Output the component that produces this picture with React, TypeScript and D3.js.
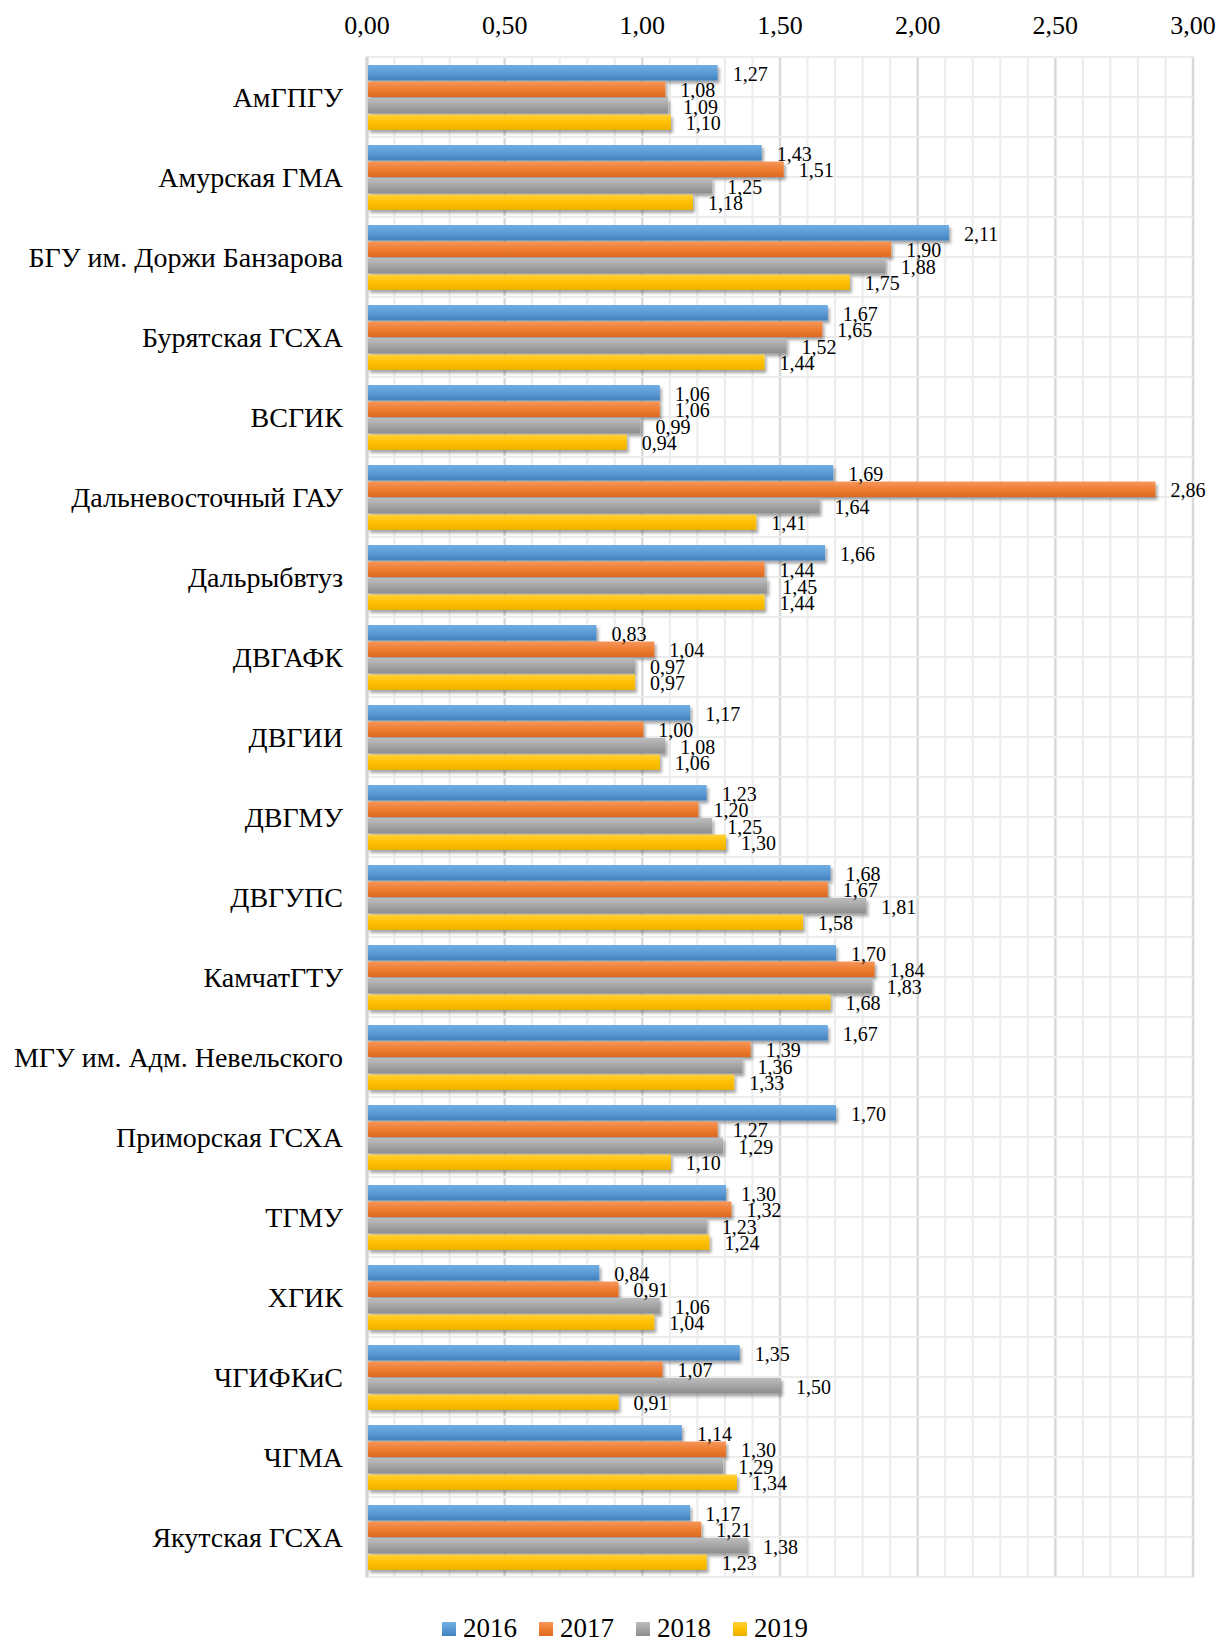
import * as d3 from 'd3'

const categories: string[] = [
  'АмГПГУ',
  'Амурская ГМА',
  'БГУ им. Доржи Банзарова',
  'Бурятская ГСХА',
  'ВСГИК',
  'Дальневосточный ГАУ',
  'Дальрыбвтуз',
  'ДВГАФК',
  'ДВГИИ',
  'ДВГМУ',
  'ДВГУПС',
  'КамчатГТУ',
  'МГУ им. Адм. Невельского',
  'Приморская ГСХА',
  'ТГМУ',
  'ХГИК',
  'ЧГИФКиС',
  'ЧГМА',
  'Якутская ГСХА',
]

const years: string[] = ['2016', '2017', '2018', '2019']

const v2016: number[] = [1.27, 1.43, 2.11, 1.67, 1.06, 1.69, 1.66, 0.83, 1.17, 1.23, 1.68, 1.70, 1.67, 1.70, 1.30, 0.84, 1.35, 1.14, 1.17]
const v2017: number[] = [1.08, 1.51, 1.90, 1.65, 1.06, 2.86, 1.44, 1.04, 1.00, 1.20, 1.67, 1.84, 1.39, 1.27, 1.32, 0.91, 1.07, 1.30, 1.21]
const v2018: number[] = [1.09, 1.25, 1.88, 1.52, 0.99, 1.64, 1.45, 0.97, 1.08, 1.25, 1.81, 1.83, 1.36, 1.29, 1.23, 1.06, 1.50, 1.29, 1.38]
const v2019: number[] = [1.10, 1.18, 1.75, 1.44, 0.94, 1.41, 1.44, 0.97, 1.06, 1.30, 1.58, 1.68, 1.33, 1.10, 1.24, 1.04, 0.91, 1.34, 1.23]

const xTicks: number[] = [0, 0.5, 1, 1.5, 2, 2.5, 3]

const series = [v2016, v2017, v2018, v2019]
const palette = [
  ['#72aee3', '#5b9bd5', '#3f7fc0'],
  ['#f6975d', '#ed7d31', '#dd6a1f'],
  ['#bdbdbd', '#a5a5a5', '#8c8c8c'],
  ['#ffd23f', '#ffc000', '#ecb000'],
]

const W = 1232
const H = 1642
const left = 367
const right = 1193
const top = 57
const bottom = 1577
const font = '"Liberation Serif", "Times New Roman", serif'
const fmt = (v: number) => v.toFixed(2).replace('.', ',')

const App = () => {
  const x = d3.scaleLinear().domain([0, 3]).range([left, right])
  const y = d3.scaleBand<string>().domain(categories).range([top, bottom]).paddingInner(0)
  const inner = d3.scaleBand<string>().domain(years).range([8, y.bandwidth() - 7]).paddingInner(0.06)

  const minor = d3.range(0, 3.0001, 0.1)
  const hLines = d3.range(0, categories.length * 2 + 1).map(i => top + (i * y.bandwidth()) / 2)

  const legendX = [442, 539, 636, 733]

  return (
    <svg width={W} height={H} style={{ position: 'absolute', left: 0, top: 0, background: '#fff' }} fontFamily={font}>
      <defs>
        {palette.map((c, i) => (
          <linearGradient key={i} id={`g${i}`} x1="0" y1="0" x2="0" y2="1">
            <stop offset="0" stopColor={c[0]} />
            <stop offset="0.5" stopColor={c[1]} />
            <stop offset="1" stopColor={c[2]} />
          </linearGradient>
        ))}
        <filter id="sh" x="-5%" y="-50%" width="110%" height="250%">
          <feDropShadow dx="2" dy="3" stdDeviation="1.8" floodColor="#000" floodOpacity="0.35" />
        </filter>
      </defs>

      {/* grid */}
      <rect x={left} y={top} width={right - left} height={bottom - top} fill="none" stroke="#e4e4e4" strokeWidth={2} />
      {minor.map((t, i) => (
        <line key={'v' + i} x1={x(t)} x2={x(t)} y1={top} y2={bottom}
          stroke={i % 5 === 0 ? '#d9d9d9' : '#ececec'} strokeWidth={i % 5 === 0 ? 2.5 : 2} />
      ))}
      {hLines.map((yy, i) => (
        <line key={'h' + i} x1={left} x2={right} y1={yy} y2={yy} stroke="#ececec" strokeWidth={2} />
      ))}
      <line x1={left} x2={left} y1={top} y2={bottom} stroke="#d4d4d4" strokeWidth={3} />

      {/* x axis tick labels */}
      {xTicks.map(t => (
        <text key={t} x={x(t)} y={25} textAnchor="middle" dominantBaseline="central" fontSize={26} fill="#000">
          {fmt(t)}
        </text>
      ))}

      {/* category labels */}
      {categories.map(c => (
        <text key={c} x={343} y={(y(c) ?? 0) + y.bandwidth() / 2} textAnchor="end" dominantBaseline="central" fontSize={28} fill="#000">
          {c}
        </text>
      ))}

      {/* bars */}
      {categories.map((c, ci) => (
        <g key={c} transform={`translate(0,${y(c)})`}>
          {years.map((yr, si) => {
            const v = series[si][ci]
            return (
              <rect key={yr} x={x(0) + 1} y={inner(yr)} width={x(v) - x(0)} height={inner.bandwidth()}
                fill={`url(#g${si})`} filter="url(#sh)" />
            )
          })}
          {years.map((yr, si) => {
            const v = series[si][ci]
            return (
              <text key={'t' + yr} x={x(v) + 16} y={(inner(yr) ?? 0) + inner.bandwidth() / 2 + 1}
                dominantBaseline="central" fontSize={20} fill="#000">
                {fmt(v)}
              </text>
            )
          })}
        </g>
      ))}

      {/* legend */}
      {years.map((yr, i) => (
        <g key={yr} transform={`translate(${legendX[i]},1628)`}>
          <rect x={0} y={-6} width={14} height={14} fill={`url(#g${i})`} />
          <text x={21} y={9} fontSize={27} fill="#000">{yr}</text>
        </g>
      ))}
    </svg>
  )
}

export default App
